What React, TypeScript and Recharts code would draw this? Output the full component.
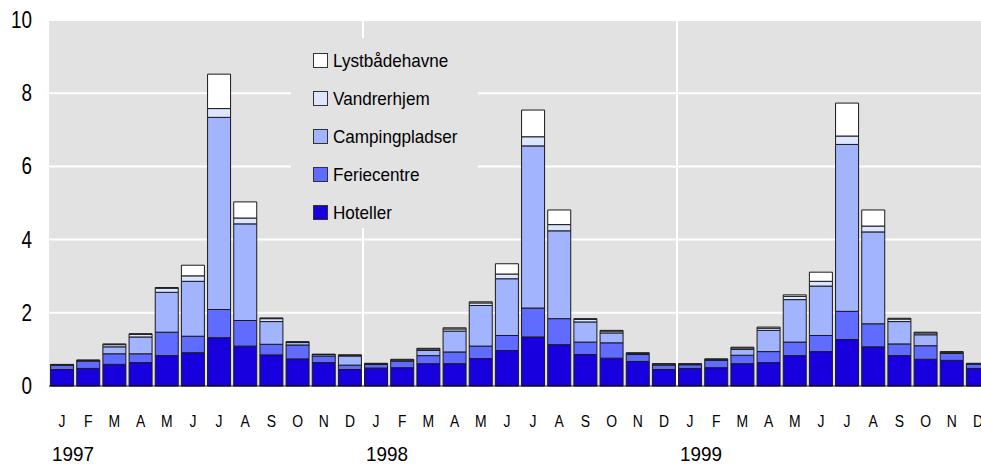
import React from 'react';
import { BarChart, Bar, XAxis, YAxis, CartesianGrid, ReferenceLine } from 'recharts';

const months = ['J', 'F', 'M', 'A', 'M', 'J', 'J', 'A', 'S', 'O', 'N', 'D'];
const years = ['1997', '1998', '1999'];

const hoteller = [
    0.45, 0.48, 0.59, 0.64, 0.83, 0.91, 1.32, 1.09, 0.85, 0.74, 0.64, 0.45,
    0.49, 0.50, 0.61, 0.61, 0.75, 0.97, 1.34, 1.13, 0.86, 0.76, 0.67, 0.45,
    0.48, 0.50, 0.61, 0.64, 0.83, 0.94, 1.27, 1.07, 0.83, 0.73, 0.70, 0.48,
];
const feriecentre = [
    0.12, 0.20, 0.29, 0.24, 0.64, 0.45, 0.77, 0.70, 0.29, 0.38, 0.18, 0.12,
    0.10, 0.18, 0.22, 0.32, 0.34, 0.41, 0.79, 0.71, 0.34, 0.42, 0.19, 0.12,
    0.10, 0.20, 0.23, 0.30, 0.37, 0.44, 0.77, 0.63, 0.32, 0.37, 0.19, 0.12,
];
const campingpladser = [
    0.01, 0.02, 0.19, 0.46, 1.09, 1.50, 5.25, 2.64, 0.62, 0.07, 0.04, 0.25,
    0.02, 0.03, 0.14, 0.57, 1.11, 1.55, 4.43, 2.40, 0.55, 0.27, 0.03, 0.03,
    0.02, 0.02, 0.16, 0.58, 1.16, 1.35, 4.56, 2.51, 0.61, 0.30, 0.03, 0.01,
];
const vandrerhjem = [
    0.01, 0.01, 0.06, 0.07, 0.11, 0.15, 0.24, 0.16, 0.08, 0.01, 0.01, 0.02,
    0.01, 0.02, 0.04, 0.06, 0.07, 0.13, 0.25, 0.17, 0.07, 0.05, 0.02, 0.01,
    0.01, 0.01, 0.04, 0.06, 0.09, 0.13, 0.23, 0.16, 0.07, 0.05, 0.02, 0.01,
];
const lystbaadehavne = [
    0.00, 0.00, 0.02, 0.02, 0.02, 0.29, 0.94, 0.44, 0.02, 0.01, 0.00, 0.01,
    0.00, 0.00, 0.02, 0.03, 0.03, 0.28, 0.73, 0.40, 0.02, 0.02, 0.00, 0.00,
    0.00, 0.01, 0.02, 0.03, 0.04, 0.25, 0.90, 0.44, 0.02, 0.02, 0.00, 0.00,
];

const yTicks = [0, 2, 4, 6, 8, 10];

const series = [
    { key: 'hoteller', name: 'Hoteller', color: '#1800de', values: hoteller },
    { key: 'feriecentre', name: 'Feriecentre', color: '#5f6cff', values: feriecentre },
    { key: 'camping', name: 'Campingpladser', color: '#a3b4ff', values: campingpladser },
    { key: 'vandrer', name: 'Vandrerhjem', color: '#dde6ff', values: vandrerhjem },
    { key: 'lyst', name: 'Lystbådehavne', color: '#ffffff', values: lystbaadehavne },
];

const data = years.flatMap((year, yi) =>
    months.map((m, mi) => {
        const i = yi * 12 + mi;
        const row: any = { id: `${year}-${mi}`, month: m, year: mi === 0 ? year : '' };
        series.forEach(s => { row[s.key] = s.values[i]; });
        return row;
    })
);

// no Arial Narrow here, so squeeze Liberation Sans horizontally
const FONT = '"Liberation Sans", Arial, sans-serif';

const NarrowText = ({ x, y, size, anchor, squeeze = 0.82, children }: any) => (
    <text transform={`translate(${x},${y}) scale(${squeeze},1)`} textAnchor={anchor}
        fontSize={size} fill="#000" fontFamily={FONT}>{children}</text>
);

const MonthTick = (props: any) => {
    const { x, y, index } = props;
    const row = data[index];
    if (!row) return null;
    return (
        <g>
            <NarrowText x={x} y={y + 41} size={17} anchor="middle">{row.month}</NarrowText>
            {row.year && <NarrowText x={x - 10} y={y + 75} size={21} squeeze={0.9} anchor="start">{row.year}</NarrowText>}
        </g>
    );
};

const ValueTick = (props: any) => {
    const { x, y, payload } = props;
    return <NarrowText x={x} y={y + 8} size={23} anchor="end">{payload.value}</NarrowText>;
};

const App: React.FC = () => {
    return (
        <div style={{ position: 'absolute', left: 0, top: 0, width: 981, height: 464, overflow: 'hidden', background: '#fff', fontFamily: FONT }}>
            <BarChart width={995} height={464} data={data} barCategoryGap="6%"
                margin={{ top: 20, right: 4, left: 0, bottom: 0 }}>
                <CartesianGrid vertical={false} stroke="#ffffff" strokeWidth={2} fill="#e2e2e2" fillOpacity={1} />
                <XAxis dataKey="id" height={78} interval={0} tickLine={false} tickSize={0} tickMargin={0}
                    axisLine={{ stroke: '#000', strokeWidth: 1 }} tick={<MonthTick />} />
                <YAxis width={49} domain={[0, 10]} ticks={yTicks} tickLine={false} axisLine={false}
                    tickSize={0} tickMargin={17} tick={<ValueTick />} />
                <ReferenceLine x={`${years[1]}-0`} position="start" stroke="#ffffff" strokeWidth={2} />
                <ReferenceLine x={`${years[2]}-0`} position="start" stroke="#ffffff" strokeWidth={2} />
                {series.map(s => (
                    <Bar key={s.key} dataKey={s.key} name={s.name} stackId="a" fill={s.color}
                        stroke="#1a1a1a" strokeWidth={1} isAnimationActive={false} />
                ))}
            </BarChart>
            <div style={{ position: 'absolute', left: 291, top: 38, width: 187, height: 190, background: '#e2e2e2' }}>
                <div style={{ paddingTop: 3 }}>
                    {[...series].reverse().map(s => (
                        <div key={s.key} style={{ height: 38, display: 'flex', alignItems: 'center', paddingLeft: 22 }}>
                            <span style={{ width: 13, height: 13, background: s.color, border: '1px solid #333', display: 'inline-block', flexShrink: 0 }} />
                            <span style={{ marginLeft: 5, fontSize: 19, color: '#000', lineHeight: '19px', display: 'inline-block', transform: 'scaleX(0.9)', transformOrigin: 'left center', whiteSpace: 'nowrap' }}>{s.name}</span>
                        </div>
                    ))}
                </div>
            </div>
        </div>
    );
};

export default App;
